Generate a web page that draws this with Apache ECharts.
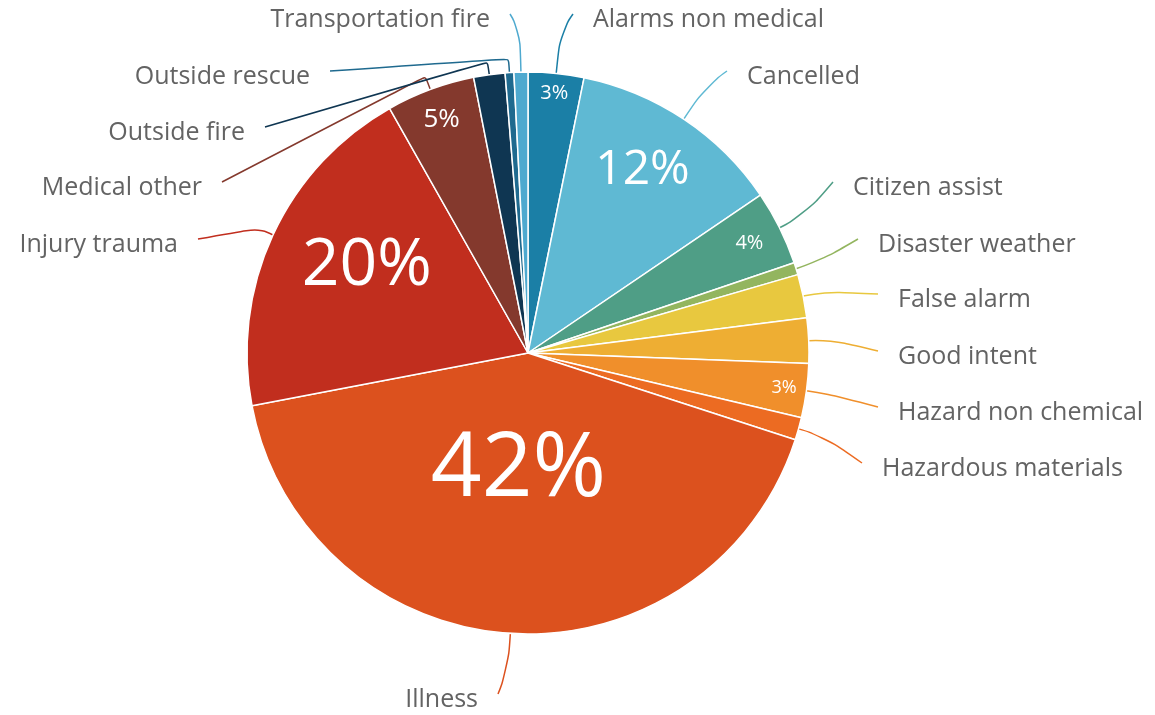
<!DOCTYPE html>
<html>
<head>
<meta charset="utf-8">
<script src="https://cdn.jsdelivr.net/npm/echarts@6/dist/echarts.min.js"></script>
<style>
html,body{margin:0;padding:0;background:#fff;}
#chart{width:1155px;height:715px;}
</style>
</head>
<body>
<div id="chart"></div>
<script>
// ---- data ----
const categories = ['Alarms non medical','Cancelled','Citizen assist','Disaster weather','False alarm','Good intent','Hazard non chemical','Hazardous materials','Illness','Injury trauma','Medical other','Outside fire','Outside rescue','Transportation fire'];
const shares = [3.2, 12.3, 4.3, 0.7, 2.5, 2.6, 3.1, 1.3, 42.0, 19.8, 5.1, 1.8, 0.5, 0.8];

// ---- styles / layout ----
const colors = ['#1b7fa6','#5fb9d3','#4f9e86','#93b55f','#e8c83f','#eeae33','#f08f2b','#ec6b22','#dc511e','#c12e1e','#84392d','#0f3652','#1f6a8f','#4ea9cf'];
const CX = 528, CY = 353, R = 281;
// outside label anchor: [x, y, align]
const labelSpots = [
  [593, 20, 'left'], [747, 77, 'left'], [853, 188, 'left'], [878, 245, 'left'],
  [898, 300, 'left'], [898, 357, 'left'], [898, 413, 'left'], [882, 469, 'left'],
  [478, 700, 'right'], [178, 245, 'right'], [202, 188, 'right'], [245, 133, 'right'],
  [310, 77, 'right'], [490, 20, 'right']
];
const lineExt = [42, 40, 28, 25, 22, 22, 22, 26, 36, 16, 14, 13, 14, 42];
const lineSmooth = [0.6, 0.6, 0.6, 0.6, 0.5, 0.5, 0.5, 0.6, 0.6, 0.4, 0.15, 0.15, 0.15, 0.6];
// inside percentage labels: font size, radial fraction, fine offset
const insideFont = {'Alarms non medical':20,'Cancelled':48,'Citizen assist':20,'Hazard non chemical':18,'Illness':89,'Injury trauma':66,'Medical other':26};
const insideRad = {'Alarms non medical':0.93,'Cancelled':0.78,'Citizen assist':0.88,'Hazard non chemical':0.92,'Illness':0.43,'Injury trauma':0.66,'Medical other':0.885};
const insideShift = {'Cancelled':[-7,0],'Illness':[-2,-3],'Injury trauma':[7,-9]};

const total = shares.reduce((a, b) => a + b, 0);
const midAngles = [];
(function () {
  let cum = 0;
  shares.forEach(v => { midAngles.push((cum + v / 2) / total * 360); cum += v; });
})();
function pt(angDeg, r) {
  const a = angDeg * Math.PI / 180;
  return [CX + r * Math.sin(a), CY - r * Math.cos(a)];
}

const sliceData = categories.map((name, i) => ({
  name, value: shares[i],
  itemStyle: { color: colors[i] },
  labelLine: { smooth: lineSmooth[i] }
}));
const overlayData = categories.map((name, i) => ({
  name, value: shares[i],
  label: { fontSize: insideFont[name] || 12 }
}));

const chart = echarts.init(document.getElementById('chart'), null, { renderer: 'canvas' });
chart.setOption({
  backgroundColor: '#ffffff',
  animation: false,
  series: [
    {
      type: 'pie',
      center: [CX, CY],
      radius: R,
      startAngle: 90,
      clockwise: true,
      avoidLabelOverlap: false,
      emphasis: { disabled: true },
      itemStyle: { borderColor: '#ffffff', borderWidth: 1.5 },
      label: {
        show: true, position: 'outside', formatter: '{b}',
        fontFamily: 'Open Sans', fontSize: 25, color: '#636363'
      },
      labelLine: { show: true, length: 15, length2: 20, lineStyle: { width: 1.5 } },
      labelLayout: function (p) {
        const i = p.dataIndex;
        const s = labelSpots[i];
        const endX = s[2] === 'left' ? s[0] - 20 : s[0] + 20;
        const endY = s[1] - 6;
        const p0 = pt(midAngles[i], R);
        const p1 = pt(midAngles[i], R + lineExt[i]);
        return {
          x: s[0], y: s[1], align: s[2], verticalAlign: 'middle',
          labelLinePoints: [p0, p1, [endX, endY]]
        };
      },
      data: sliceData
    },
    {
      type: 'pie',
      center: [CX, CY],
      radius: R,
      startAngle: 90,
      clockwise: true,
      silent: true,
      avoidLabelOverlap: false,
      emphasis: { disabled: true },
      itemStyle: { color: 'rgba(0,0,0,0)', borderWidth: 0 },
      label: {
        show: true, position: 'inside',
        fontFamily: 'Open Sans', color: '#ffffff',
        formatter: function (p) { return p.percent >= 3 ? Math.round(p.percent) + '%' : ''; }
      },
      labelLine: { show: false },
      labelLayout: function (p) {
        const i = p.dataIndex;
        const name = categories[i];
        const f = insideRad[name] || 0.5;
        const c = pt(midAngles[i], R * f);
        const sh = insideShift[name] || [0, 0];
        return { x: c[0] + sh[0], y: c[1] + sh[1], align: 'center', verticalAlign: 'middle' };
      },
      data: overlayData
    }
  ]
});
</script>
</body>
</html>
